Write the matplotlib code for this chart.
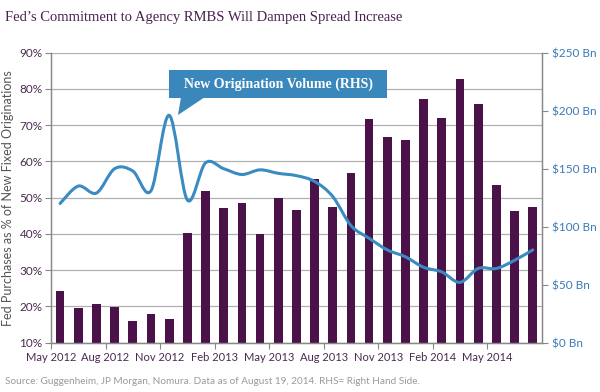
import matplotlib

matplotlib.use("Agg")
import matplotlib.pyplot as plt
from matplotlib.path import Path
from matplotlib.patches import PathPatch, Polygon, Rectangle
from matplotlib.ticker import FuncFormatter

# monthly data, May 2012 .. Jul 2014
fed_pct = [24.3, 19.5, 20.7, 19.8, 16.1, 17.8, 16.6, 40.2, 51.9, 47.1, 48.6,
           39.9, 50.0, 46.5, 55.2, 47.3, 56.7, 71.8, 66.8, 65.8, 77.2, 72.1,
           82.7, 75.8, 53.4, 46.4, 47.3]
orig_bn = [120, 135, 129, 150, 148, 131, 196, 123, 155, 150, 145, 149, 146,
           144, 139, 126, 101, 90, 80, 74, 65, 61, 52, 64, 64, 71, 80]
tick_labels = ["May 2012", "Aug 2012", "Nov 2012", "Feb 2013", "May 2013",
               "Aug 2013", "Nov 2013", "Feb 2014", "May 2014"]

SANS = ["Lato", "DejaVu Sans"]
BAR_C = "#4a1248"
LINE_C = "#3a8bc1"
BOX_C = "#3a87bb"
GRID_C = "#b0b0b0"

fig = plt.figure(figsize=(6.0, 3.92), dpi=100)
ax = fig.add_axes([0.085, 0.1258, 0.818, 0.7398])
ax2 = ax.twinx()

x = [i + 0.5 for i in range(len(fed_pct))]
ax.bar(x, fed_pct, width=0.48, color=BAR_C, zorder=2)
ax.set_ylim(10, 90)
ax.set_xlim(0, len(fed_pct))
ax.set_yticks(range(10, 91, 10))
ax.yaxis.set_major_formatter(FuncFormatter(lambda v, p: "{:.0f}%".format(v)))
ax.grid(axis="y", color=GRID_C, lw=0.9, zorder=0)
ax.set_axisbelow(True)
ax.set_xticks(range(0, 25, 3))
ax.set_xticklabels(tick_labels)

# smoothed line (Catmull-Rom style, as the source chart draws it)
pts = list(zip(x, orig_bn))
verts = [pts[0]]
codes = [Path.MOVETO]
for i in range(len(pts) - 1):
    p0 = pts[i - 1] if i > 0 else pts[i]
    p1 = pts[i]
    p2 = pts[i + 1]
    p3 = pts[i + 2] if i + 2 < len(pts) else pts[i + 1]
    c1 = (p1[0] + (p2[0] - p0[0]) / 6, p1[1] + (p2[1] - p0[1]) / 6)
    c2 = (p2[0] - (p3[0] - p1[0]) / 6, p2[1] - (p3[1] - p1[1]) / 6)
    verts += [c1, c2, p2]
    codes += [Path.CURVE4] * 3
ax2.add_patch(PathPatch(Path(verts, codes), fill=False, edgecolor=LINE_C,
                        lw=2.2, zorder=3, capstyle="round"))
ax2.set_ylim(0, 250)
ax2.set_yticks(range(0, 251, 50))
ax2.yaxis.set_major_formatter(FuncFormatter(lambda v, p: "${:.0f} Bn".format(v)))

for a in (ax, ax2):
    for s in a.spines.values():
        s.set_color("#888888")
        s.set_linewidth(0.9)
    a.spines["top"].set_visible(False)

ax.tick_params(axis="y", colors="#888888", labelcolor="#4a2a50", length=4,
               labelsize=8.5, pad=2)
ax.tick_params(axis="x", colors="#888888", labelcolor="#4a2a50", length=4,
               labelsize=8, pad=3)
ax2.tick_params(axis="y", colors="#888888", labelcolor="#3a7ab8", length=4,
                labelsize=8.5)
for lab in ax.get_yticklabels() + ax.get_xticklabels() + ax2.get_yticklabels():
    lab.set_family(SANS)

ax.set_ylabel("Fed Purchases as % of New Fixed Originations", color="#555555",
              fontsize=9, family=SANS)
ax.yaxis.set_label_coords(-0.076, 0.5)

# callout box with pointer
box = Rectangle((169 / 600, 1 - 98 / 392), 218 / 600, 28 / 392,
                transform=fig.transFigure, facecolor=BOX_C, edgecolor="none")
tri = Polygon([(178 / 600, 1 - 115 / 392), (181 / 600, 1 - 97 / 392),
               (205 / 600, 1 - 97 / 392)], closed=True,
              transform=fig.transFigure, facecolor=BOX_C, edgecolor="none")
fig.patches.extend([box, tri])
fig.text(279 / 600, 1 - 84 / 392, "New Origination Volume (RHS)", color="white",
         fontsize=10, fontweight="bold", family="Liberation Serif",
         ha="center", va="center")

fig.text(0.008, 1 - 17 / 392,
         "Fed\u2019s Commitment to Agency RMBS Will Dampen Spread Increase",
         color="#4a2050", fontsize=10.5, family="Liberation Serif",
         ha="left", va="center")
fig.text(0.008, 1 - 381 / 392,
         "Source: Guggenheim, JP Morgan, Nomura. Data as of August 19, 2014. "
         "RHS= Right Hand Side.",
         color="#9a9a9a", fontsize=7.2, family=SANS, ha="left", va="center")

fig.savefig("out.png", dpi=100)
